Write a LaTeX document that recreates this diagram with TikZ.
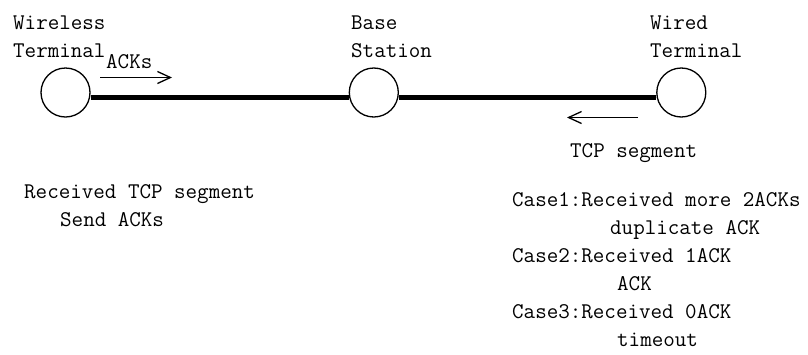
\documentclass[tikz,border=0pt]{standalone}
\usepackage{fontspec}
\usetikzlibrary{arrows.meta}
\begin{document}
\begin{tikzpicture}[x=1pt,y=-1pt,
  station/.style={circle,draw,line width=1.3pt,minimum size=49pt,inner sep=0pt},
  link/.style={line width=5pt},
  flow/.style={line width=1.3pt,-{Straight Barb[length=13pt,width=12pt,line width=1.3pt]}},
  lbl/.style={anchor=base west,inner sep=0pt,font=\ttfamily\fontsize{22.4}{22.4}\selectfont}]
\useasboundingbox (0,0) rectangle (808,354);

% stations
\node[station] (wt) at (65.5,92.5) {};
\node[station] (bs) at (373.8,92.5) {};
\node[station] (wd) at (681.3,92.5) {};

% thick links between stations
\draw[link] ([yshift=-5pt]wt.east) -- ([yshift=-5pt]bs.west);
\draw[link] ([yshift=-5pt]bs.east) -- ([yshift=-5pt]wd.west);

% station names
\node[lbl] (wt1) at (13,29) {Wireless};
\node[lbl] (wt2) at (13,57) {Terminal};
\node[lbl] (bs1) at (351,29) {Base};
\node[lbl] (bs2) at (351,57) {Station};
\node[lbl] (wd1) at (650,29) {Wired};
\node[lbl] (wd2) at (650,57) {Terminal};

% ACK flow towards the base station
\node[lbl] (acks) at (106,68) {ACKs};
\coordinate (a0) at (100,77.5);
\coordinate (a1) at (172,77.5);
\draw[flow] (a0) -- (a1);

% TCP segment flow towards the wireless side
\coordinate (t0) at (638,117.5);
\coordinate (t1) at (567,117.5);
\draw[flow] (t0) -- (t1);
\node[lbl] (tcp) at (570,157) {TCP segment};

% behaviour at the wireless terminal
\node[lbl] (r1) at (24,198) {Received TCP segment};
\node[lbl] (r2) at (60,226) {Send ACKs};

% behaviour at the wired terminal
\node[lbl] (c1) at (512,206) {Case1:Received more 2ACKs};
\node[lbl] (c1b) at (610,234) {duplicate ACK};
\node[lbl] (c2) at (512,262) {Case2:Received 1ACK};
\node[lbl] (c2b) at (617,290) {ACK};
\node[lbl] (c3) at (512,318) {Case3:Received 0ACK};
\node[lbl] (c3b) at (617,346) {timeout};
\end{tikzpicture}
\end{document}
